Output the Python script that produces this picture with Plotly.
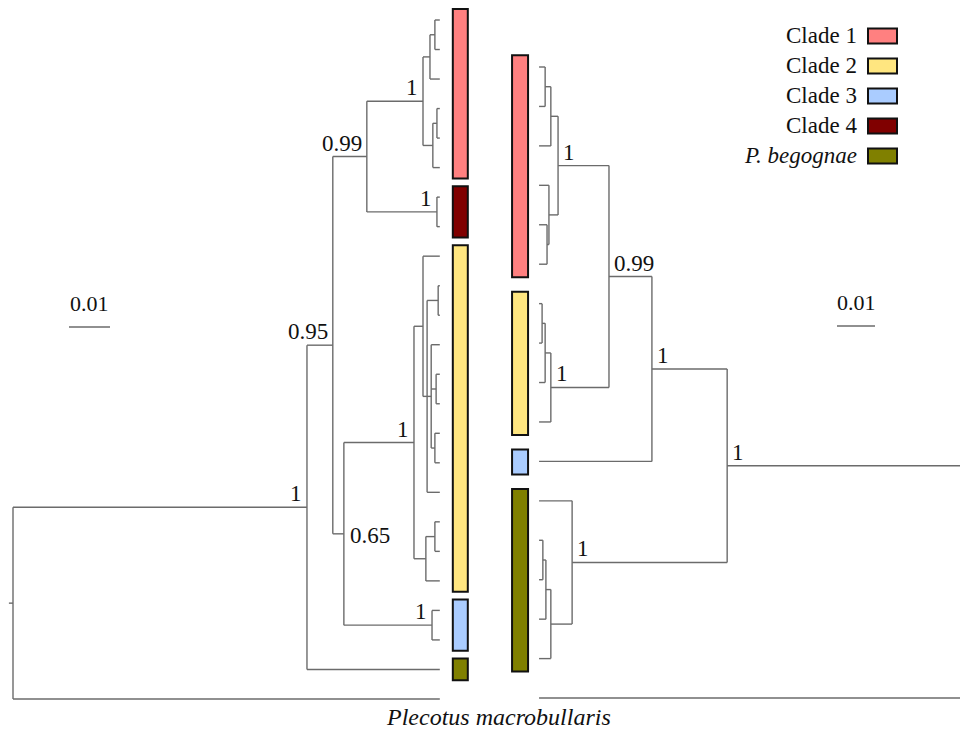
import plotly.graph_objects as go

# ---------------------------------------------------------------
# Tree data: node -> (depth from root in substitutions/site, children)
# integer children are tips (their order index, top to bottom)
# ---------------------------------------------------------------
LEFT_TIP_DEPTH = 0.1041
left_tree = {
    "root":    (0.0,    ["ingroup", 23]),
    "ingroup": (0.0717, ["n095", 22]),
    "n095":    (0.0780, ["n099", "n065"]),
    "n099":    (0.0863, ["c1", "c4"]),
    "c1":      (0.1000, ["c1a", "c1b"]),
    "c1a":     (0.1017, ["c1a1", 2]),
    "c1a1":    (0.1029, [0, 1]),
    "c1b":     (0.1024, ["c1b1", 5]),
    "c1b1":    (0.1034, [3, 4]),
    "c4":      (0.1034, [6, 7]),
    "n065":    (0.0807, ["c2", "c3"]),
    "c2":      (0.0978, ["c2a", "c2b"]),
    "c2a":     (0.1000, [8, "c2a2"]),
    "c2a2":    (0.1010, ["c2x", "c2y", 16]),
    "c2x":     (0.1037, [9, 10]),
    "c2y":     (0.1020, [11, "c2y2", "c2y3"]),
    "c2y2":    (0.1032, [12, 13]),
    "c2y3":    (0.1029, [14, 15]),
    "c2b":     (0.1007, ["c2b1", 19]),
    "c2b1":    (0.1029, [17, 18]),
    "c3":      (0.1022, [20, 21]),
}
left_support = {"ingroup": "1", "n095": "0.95", "n099": "0.99", "c1": "1",
                "c4": "1", "n065": "0.65", "c2": "1", "c3": "1"}
left_clade_tips = {"Clade 1": (0, 5), "Clade 4": (6, 7), "Clade 2": (8, 19),
                   "Clade 3": (20, 21), "P. begognae": (22, 22)}

RIGHT_TIP_DEPTH = 0.1213
right_tree = {
    "root":  (0.0,    ["r1", 16]),
    "r1":    (0.0718, ["r2", "rbeg"]),
    "r2":    (0.0916, ["r3", 10]),
    "r3":    (0.1029, ["rc1", "rc2"]),
    "rc1":   (0.1163, ["rc1a", "rc1b"]),
    "rc1a":  (0.1182, ["rc1a1", 2]),
    "rc1a1": (0.1197, [0, 1]),
    "rc1b":  (0.1187, [3, "rc1b1"]),
    "rc1b1": (0.1192, [4, 5]),
    "rc2":   (0.1182, ["rc2a", 9]),
    "rc2a":  (0.1197, ["rc2a1", 8]),
    "rc2a1": (0.1205, [6, 7]),
    "rbeg":  (0.1126, [11, "rbeg1"]),
    "rbeg1": (0.1182, ["rbeg2", 15]),
    "rbeg2": (0.1195, ["rbeg3", 14]),
    "rbeg3": (0.1203, [12, 13]),
}
right_support = {"r1": "1", "r2": "1", "r3": "0.99", "rc1": "1", "rc2": "1", "rbeg": "1"}
right_clade_tips = {"Clade 1": (0, 5), "Clade 2": (6, 9), "Clade 3": (10, 10),
                    "P. begognae": (11, 15)}

clade_names = ["Clade 1", "Clade 2", "Clade 3", "Clade 4", "P. begognae"]
clade_colors = ["#FF8080", "#FFE680", "#AACCFF", "#800000", "#808000"]
outgroup_name = "Plecotus macrobullaris"
scale_len = 0.01

# ---------------------------------------------------------------
W, H = 960, 733
LINE_COL = "#6b6b6b"
TXT_COL = "#111111"
FONT = "Liberation Serif"
FS = 23

# pixel geometry of the two panels
L_ROOT_PX, L_PPU = 13, 4100.0          # left: root x, pixels per unit
L_TIP0_PX, L_TIP_STEP = 20, 29.52
R_ROOT_PX, R_PPU = 1000, 3800.0         # right (mirrored): root x, pixels per unit
R_TIP0_PX, R_TIP_STEP = 67, 39.44


def node_y(tree, n, memo):
    if isinstance(n, int):
        return float(n)
    if n not in memo:
        ys = [node_y(tree, c, memo) for c in tree[n][1]]
        memo[n] = (min(ys) + max(ys)) / 2
    return memo[n]


def depth(tree, n, tip_depth):
    return tip_depth if isinstance(n, int) else tree[n][0]


def tree_segments(tree, tip_depth, root_stub=None):
    memo = {}
    xs, ys = [], []
    for n, (d, kids) in tree.items():
        cy = [node_y(tree, c, memo) for c in kids]
        xs += [d, d, None]
        ys += [min(cy), max(cy), None]
        for c, y in zip(kids, cy):
            xs += [d, depth(tree, c, tip_depth), None]
            ys += [y, y, None]
    if root_stub is not None:
        ry = node_y(tree, "root", memo)
        xs += [root_stub, 0.0, None]
        ys += [ry, ry, None]
    return xs, ys, memo


fig = go.Figure()

lx, ly, lmemo = tree_segments(left_tree, LEFT_TIP_DEPTH, root_stub=-0.001)
rx, ry, rmemo = tree_segments(right_tree, RIGHT_TIP_DEPTH)

fig.add_trace(go.Scatter(x=lx, y=ly, mode="lines", xaxis="x", yaxis="y",
                         line=dict(color=LINE_COL, width=1.4), hoverinfo="skip",
                         showlegend=False))
fig.add_trace(go.Scatter(x=rx, y=ry, mode="lines", xaxis="x2", yaxis="y2",
                         line=dict(color=LINE_COL, width=1.4), hoverinfo="skip",
                         showlegend=False))

shapes = []
annotations = []
color_of = dict(zip(clade_names, clade_colors))

# clade bars next to the tips
for name, (a, b) in left_clade_tips.items():
    shapes.append(dict(type="rect", xref="x", yref="y", xsizemode="pixel",
                       xanchor=LEFT_TIP_DEPTH, x0=13, x1=28,
                       y0=a - 0.37, y1=b + 0.37, fillcolor=color_of[name],
                       line=dict(color="#111111", width=2), layer="above"))
for name, (a, b) in right_clade_tips.items():
    shapes.append(dict(type="rect", xref="x2", yref="y2", xsizemode="pixel",
                       xanchor=RIGHT_TIP_DEPTH, x0=-27, x1=-11,
                       y0=a - 0.3, y1=b + 0.33, fillcolor=color_of[name],
                       line=dict(color="#111111", width=2), layer="above"))

# support values
for n, lab in left_support.items():
    d = left_tree[n][0]
    y = lmemo[n]
    if n == "n065":
        annotations.append(dict(x=d, y=y, xref="x", yref="y", text=lab,
                                showarrow=False, xanchor="left", yanchor="middle",
                                xshift=4, yshift=-2,
                                font=dict(family=FONT, size=FS, color=TXT_COL)))
    else:
        annotations.append(dict(x=d, y=y, xref="x", yref="y", text=lab,
                                showarrow=False, xanchor="right", yanchor="bottom",
                                xshift=-3, yshift=-1,
                                font=dict(family=FONT, size=FS, color=TXT_COL)))
for n, lab in right_support.items():
    d = right_tree[n][0]
    y = rmemo[n]
    annotations.append(dict(x=d, y=y, xref="x2", yref="y2", text=lab,
                            showarrow=False, xanchor="left", yanchor="bottom",
                            xshift=3, yshift=-1,
                            font=dict(family=FONT, size=FS, color=TXT_COL)))

# scale bars
for xref, x0, ypx in [("x", (69 - L_ROOT_PX) / L_PPU, 327),
                      ("x2", (R_ROOT_PX - 875) / R_PPU, 326)]:
    x1 = x0 + scale_len
    shapes.append(dict(type="line", xref=xref, yref="paper", x0=x0, x1=x1,
                       y0=1 - ypx / H, y1=1 - ypx / H,
                       line=dict(color=LINE_COL, width=1.6)))
    annotations.append(dict(x=(x0 + x1) / 2, y=1 - (ypx - 24) / H, xref=xref,
                            yref="paper", text=f"{scale_len:g}", showarrow=False,
                            xanchor="center", yanchor="middle",
                            font=dict(family=FONT, size=22, color=TXT_COL)))

# outgroup name
annotations.append(dict(x=498 / W, y=1 - 717 / H, xref="paper", yref="paper",
                        text=f"<i>{outgroup_name}</i>", showarrow=False,
                        xanchor="center", yanchor="middle",
                        font=dict(family=FONT, size=24, color=TXT_COL)))

# legend (label on the left, swatch on the right)
for k, (name, col) in enumerate(zip(clade_names, clade_colors)):
    cy = 36 + 30 * k
    label = f"<i>{name}</i>" if name.startswith("P.") else name
    annotations.append(dict(x=859 / W, y=1 - cy / H, xref="paper", yref="paper",
                            text=label, showarrow=False, xanchor="right",
                            yanchor="middle",
                            font=dict(family=FONT, size=FS, color=TXT_COL)))
    shapes.append(dict(type="rect", xref="paper", yref="paper",
                       x0=868 / W, x1=897 / W, y0=1 - (cy - 7.5) / H,
                       y1=1 - (cy + 7.5) / H, fillcolor=col,
                       line=dict(color="#111111", width=2)))

axis_off = dict(visible=False, showgrid=False, zeroline=False)
fig.update_layout(
    width=W, height=H,
    margin=dict(l=0, r=0, t=0, b=0),
    paper_bgcolor="white", plot_bgcolor="white",
    showlegend=False,
    xaxis=dict(domain=[0, 0.5], anchor="y",
               range=[-L_ROOT_PX / L_PPU, (W / 2 - L_ROOT_PX) / L_PPU], **axis_off),
    yaxis=dict(domain=[0, 1], anchor="x",
               range=[(H - L_TIP0_PX) / L_TIP_STEP, -L_TIP0_PX / L_TIP_STEP], **axis_off),
    xaxis2=dict(domain=[0.5, 1], anchor="y2",
                range=[(R_ROOT_PX - W / 2) / R_PPU, (R_ROOT_PX - W) / R_PPU], **axis_off),
    yaxis2=dict(domain=[0, 1], anchor="x2",
                range=[(H - R_TIP0_PX) / R_TIP_STEP, -R_TIP0_PX / R_TIP_STEP], **axis_off),
    shapes=shapes,
    annotations=annotations,
)

fig.write_html("out.html")
